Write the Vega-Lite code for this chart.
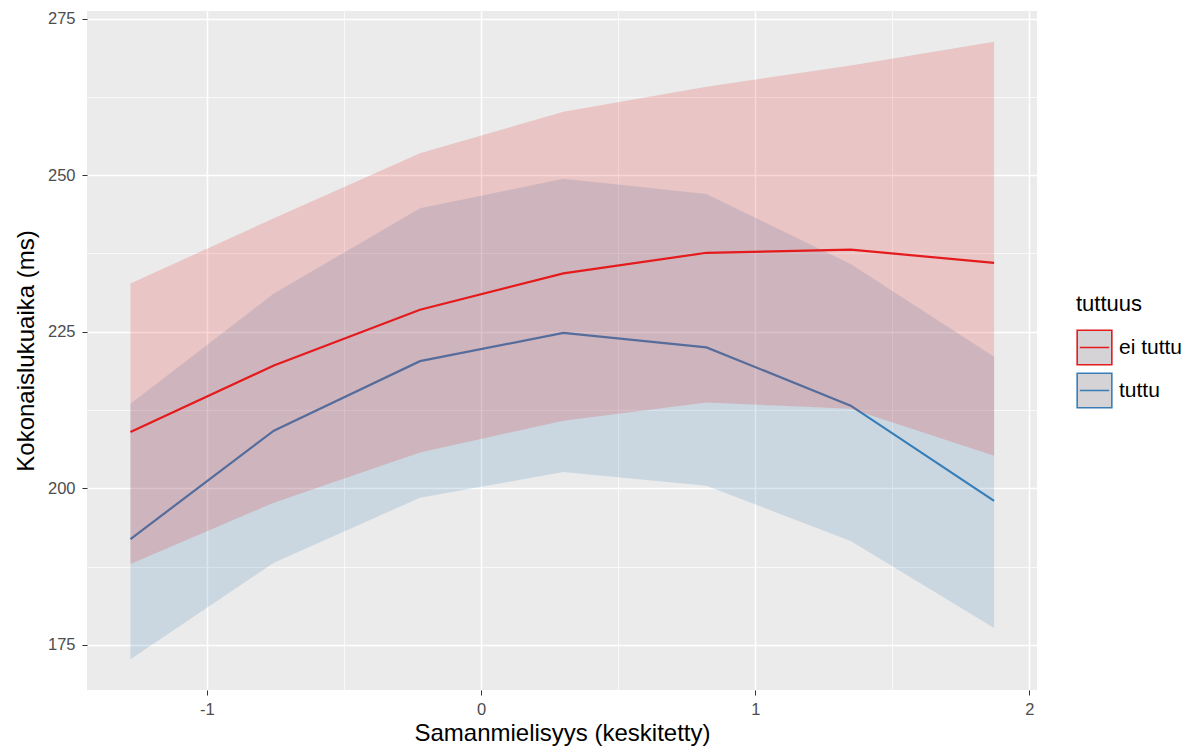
{
  "$schema": "https://vega.github.io/schema/vega-lite/v6.json",
  "width": 950,
  "height": 679,
  "autosize": {"type": "none"},
  "padding": {"left": 87, "top": 11, "right": 160, "bottom": 63},
  "background": "white",
  "config": {
    "view": {"fill": "#EBEBEB", "stroke": null},
    "font": "Liberation Sans",
    "axis": {
      "domain": false,
      "gridColor": "white",
      "tickColor": "#333333",
      "tickSize": 5,
      "labelColor": "#4D4D4D",
      "labelFontSize": 16.5,
      "labelFont": "Liberation Sans",
      "titleFont": "Liberation Sans",
      "titleFontSize": 24,
      "titleFontWeight": "normal",
      "titleColor": "black"
    }
  },
  "data": {
    "values": [
      {"x": -1.279, "group": "ei tuttu", "fit": 209.0, "lower": 187.9, "upper": 232.7},
      {"x": -0.756, "group": "ei tuttu", "fit": 219.6, "lower": 197.7, "upper": 243.1},
      {"x": -0.223, "group": "ei tuttu", "fit": 228.5, "lower": 205.7, "upper": 253.5},
      {"x": 0.300, "group": "ei tuttu", "fit": 234.3, "lower": 210.8, "upper": 260.1},
      {"x": 0.822, "group": "ei tuttu", "fit": 237.6, "lower": 213.7, "upper": 264.1},
      {"x": 1.348, "group": "ei tuttu", "fit": 238.1, "lower": 212.7, "upper": 267.5},
      {"x": 1.871, "group": "ei tuttu", "fit": 236.0, "lower": 205.2, "upper": 271.3},
      {"x": -1.279, "group": "tuttu", "fit": 191.9, "lower": 172.7, "upper": 213.5},
      {"x": -0.756, "group": "tuttu", "fit": 209.2, "lower": 188.1, "upper": 231.1},
      {"x": -0.223, "group": "tuttu", "fit": 220.3, "lower": 198.5, "upper": 244.7},
      {"x": 0.300, "group": "tuttu", "fit": 224.8, "lower": 202.6, "upper": 249.4},
      {"x": 0.822, "group": "tuttu", "fit": 222.5, "lower": 200.4, "upper": 247.0},
      {"x": 1.348, "group": "tuttu", "fit": 213.2, "lower": 191.6, "upper": 235.8},
      {"x": 1.871, "group": "tuttu", "fit": 198.0, "lower": 177.7, "upper": 221.0}
    ]
  },
  "encoding": {
    "x": {
      "field": "x",
      "type": "quantitative",
      "title": "Samanmielisyys (keskitetty)",
      "scale": {"domain": [-1.4375, 2.0275], "nice": false, "zero": false},
      "axis": {
        "values": [-1, -0.5, 0, 0.5, 1, 1.5, 2],
        "labelExpr": "datum.value % 1 === 0 ? '' + datum.value : ''",
        "gridWidth": {"condition": {"test": "datum.value % 1 !== 0", "value": 0.7}, "value": 1.5},
        "tickOpacity": {"condition": {"test": "datum.value % 1 !== 0", "value": 0}, "value": 1},
        "labelPadding": 6,
        "titlePadding": 4
      }
    }
  },
  "layer": [
    {
      "transform": [{"filter": "datum.group === 'tuttu'"}],
      "mark": {"type": "area", "fill": "#377EB8", "opacity": 0.18},
      "encoding": {
        "y": {"field": "lower", "type": "quantitative"},
        "y2": {"field": "upper"}
      }
    },
    {
      "transform": [{"filter": "datum.group === 'tuttu'"}],
      "mark": {"type": "line", "strokeWidth": 2.2},
      "encoding": {
        "y": {"field": "fit", "type": "quantitative"},
        "stroke": {
          "field": "group",
          "type": "nominal",
          "scale": {"domain": ["ei tuttu", "tuttu"], "range": ["#E41A1C", "#377EB8"]},
          "legend": {
            "title": "tuttuus",
            "orient": "none",
            "legendX": 989,
            "legendY": 283,
            "titleFontSize": 22,
            "titleFontWeight": "normal",
            "titleColor": "black",
            "titleFont": "Liberation Sans",
            "titlePadding": 13,
            "labelFontSize": 21,
            "labelColor": "black",
            "labelFont": "Liberation Sans",
            "labelOffset": 6,
            "symbolType": "M-1,-1H1V1H-1Z M-0.85,0H0.85",
            "symbolSize": 1200,
            "symbolStrokeWidth": 1.6,
            "symbolFillColor": "#D5D3D6",
            "symbolOpacity": 1,
            "rowPadding": 0
          }
        }
      }
    },
    {
      "transform": [{"filter": "datum.group === 'ei tuttu'"}],
      "mark": {"type": "area", "fill": "#E41A1C", "opacity": 0.18},
      "encoding": {
        "y": {"field": "lower", "type": "quantitative"},
        "y2": {"field": "upper"}
      }
    },
    {
      "transform": [{"filter": "datum.group === 'ei tuttu'"}],
      "mark": {"type": "line", "strokeWidth": 2.2},
      "encoding": {
        "stroke": {
          "field": "group",
          "type": "nominal",
          "scale": {"domain": ["ei tuttu", "tuttu"], "range": ["#E41A1C", "#377EB8"]},
          "legend": {
            "title": "tuttuus",
            "orient": "none",
            "legendX": 989,
            "legendY": 283,
            "titleFontSize": 22,
            "titleFontWeight": "normal",
            "titleColor": "black",
            "titleFont": "Liberation Sans",
            "titlePadding": 13,
            "labelFontSize": 21,
            "labelColor": "black",
            "labelFont": "Liberation Sans",
            "labelOffset": 6,
            "symbolType": "M-1,-1H1V1H-1Z M-0.85,0H0.85",
            "symbolSize": 1200,
            "symbolStrokeWidth": 1.6,
            "symbolFillColor": "#D5D3D6",
            "symbolOpacity": 1,
            "rowPadding": 0
          }
        },
        "y": {
          "field": "fit",
          "type": "quantitative",
          "title": "Kokonaislukuaika (ms)",
          "scale": {"domain": [167.8, 276.2], "nice": false, "zero": false},
          "axis": {
            "values": [175, 187.5, 200, 212.5, 225, 237.5, 250, 262.5, 275],
            "labelExpr": "datum.value % 25 === 0 ? '' + datum.value : ''",
            "gridWidth": {"condition": {"test": "datum.value % 25 !== 0", "value": 0.7}, "value": 1.5},
            "tickOpacity": {"condition": {"test": "datum.value % 25 !== 0", "value": 0}, "value": 1},
            "labelPadding": 7,
            "titlePadding": 9
          }
        }
      }
    }
  ]
}
